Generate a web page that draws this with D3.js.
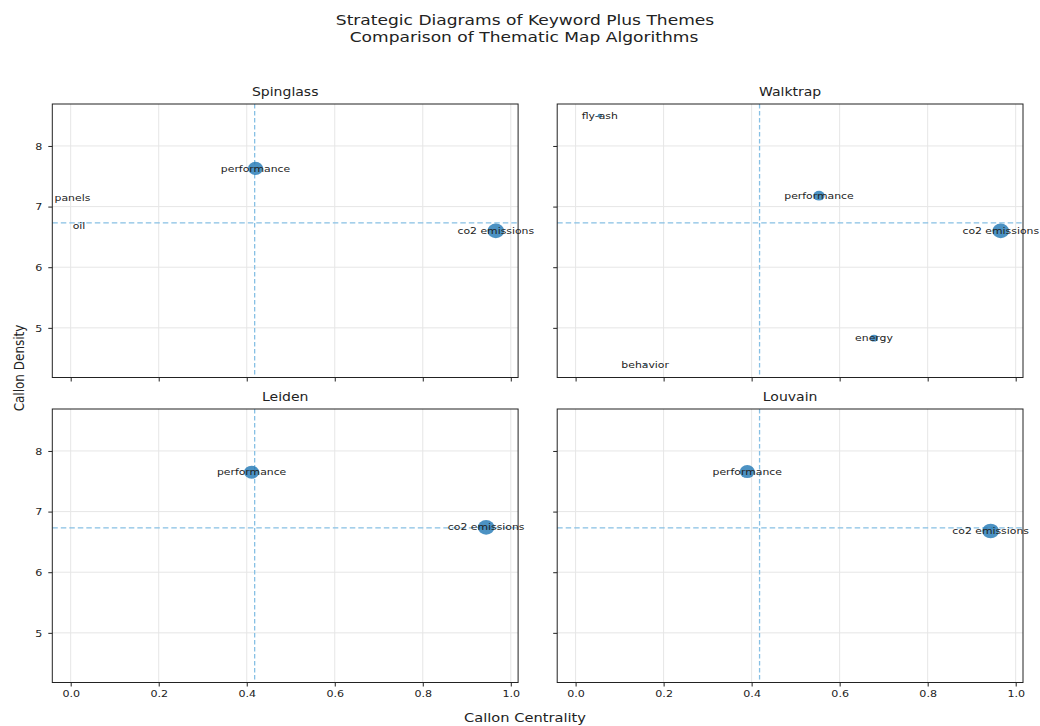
<!DOCTYPE html>
<html>
<head>
<meta charset="utf-8">
<script src="https://cdn.jsdelivr.net/npm/d3@7"></script>
<style>
  html, body { margin: 0; padding: 0; background: #fff; }
  svg { display: block; font-family: "DejaVu Sans", sans-serif; }
</style>
</head>
<body>
<svg id="chart" width="1040" height="726"></svg>
<script>
// ---------------- DATA ----------------
const algorithms = ["Spinglass", "Walktrap", "Leiden", "Louvain"];

const spinglassThemes      = ["performance", "co2 emissions", "panels", "oil"];
const spinglassCentrality  = [0.420, 0.966, 0.004, 0.019];
const spinglassDensity     = [7.63, 6.60, 7.15, 6.68];
const spinglassFrequency   = [80, 100, 0, 0];

const walktrapThemes       = ["fly-ash", "performance", "co2 emissions", "energy", "behavior"];
const walktrapCentrality   = [0.055, 0.553, 0.966, 0.678, 0.158];
const walktrapDensity      = [8.50, 7.18, 6.60, 4.83, 4.39];
const walktrapFrequency    = [7, 45, 100, 22, 2];

const leidenThemes         = ["performance", "co2 emissions"];
const leidenCentrality     = [0.411, 0.944];
const leidenDensity        = [7.65, 6.74];
const leidenFrequency      = [80, 100];

const louvainThemes        = ["performance", "co2 emissions"];
const louvainCentrality    = [0.390, 0.943];
const louvainDensity       = [7.66, 6.68];
const louvainFrequency     = [80, 100];

const centralityThreshold  = [0.418, 0.418, 0.418, 0.418];
const densityThreshold     = [6.73, 6.73, 6.73, 6.73];

const xTicks = [0.0, 0.2, 0.4, 0.6, 0.8, 1.0];
const yTicks = [5, 6, 7, 8];
const xDomain = [-0.0418, 1.0166];
const yDomain = [4.181, 8.692];

const figTitle = ["Strategic Diagrams of Keyword Plus Themes", "Comparison of Thematic Map Algorithms"];
const xLabel = "Callon Centrality";
const yLabel = "Callon Density";

const panelData = [
  {themes: spinglassThemes, cx: spinglassCentrality, dy: spinglassDensity, f: spinglassFrequency},
  {themes: walktrapThemes,  cx: walktrapCentrality,  dy: walktrapDensity,  f: walktrapFrequency},
  {themes: leidenThemes,    cx: leidenCentrality,    dy: leidenDensity,    f: leidenFrequency},
  {themes: louvainThemes,   cx: louvainCentrality,   dy: louvainDensity,   f: louvainFrequency}
];

// ---------------- LAYOUT ----------------
const SX = 1.22;              // horizontal stretch of the original figure
const W = 465.8, H = 273.5;
const lefts = [52.3, 557.2];
const tops = [104, 409];
const ink = "#222";

const svg = d3.select("#chart");
const sizeScale = d3.scaleSqrt().domain([0, 100]).range([0, 7.3]);

function stretchedText(g, x, y, txt, size, anchor) {
  return g.append("text")
    .attr("transform", `translate(${x},${y}) scale(${SX},1)`)
    .attr("text-anchor", anchor || "middle")
    .attr("font-size", size)
    .attr("fill", ink)
    .text(txt);
}

// figure title
stretchedText(svg, 525, 25, figTitle[0], 14, "middle");
stretchedText(svg, 524, 42, figTitle[1], 14, "middle");

algorithms.forEach((name, i) => {
  const col = i % 2, row = Math.floor(i / 2);
  const x0 = lefts[col], y0 = tops[row];
  const x = d3.scaleLinear().domain(xDomain).range([x0, x0 + W]);
  const y = d3.scaleLinear().domain(yDomain).range([y0 + H, y0]);
  const g = svg.append("g");

  // grid
  g.append("g").selectAll("line").data(xTicks).join("line")
    .attr("x1", d => x(d)).attr("x2", d => x(d))
    .attr("y1", y0).attr("y2", y0 + H)
    .attr("stroke", "#e6e6e6").attr("stroke-width", 1);
  g.append("g").selectAll("line").data(yTicks).join("line")
    .attr("x1", x0).attr("x2", x0 + W)
    .attr("y1", d => y(d)).attr("y2", d => y(d))
    .attr("stroke", "#e6e6e6").attr("stroke-width", 1);

  // threshold lines
  g.append("line")
    .attr("x1", x0).attr("x2", x0 + W)
    .attr("y1", y(densityThreshold[i])).attr("y2", y(densityThreshold[i]))
    .attr("stroke", "#87c0e4").attr("stroke-width", 1.3)
    .attr("stroke-dasharray", "5.5,3");
  g.append("line")
    .attr("x1", x(centralityThreshold[i])).attr("x2", x(centralityThreshold[i]))
    .attr("y1", y0).attr("y2", y0 + H)
    .attr("stroke", "#87c0e4").attr("stroke-width", 1.3)
    .attr("stroke-dasharray", "4.5,2.5");

  // axes via d3
  const xAxis = d3.axisBottom(x).tickValues(xTicks).tickSize(4).tickPadding(3)
    .tickFormat(row === 1 ? d3.format(".1f") : () => "");
  const yAxis = d3.axisLeft(y).tickValues(yTicks).tickSize(4).tickPadding(6)
    .tickFormat(col === 0 ? d3.format("d") : () => "");

  const gx = g.append("g").attr("transform", `translate(0,${y0 + H})`).call(xAxis);
  const gy = g.append("g").attr("transform", `translate(${x0},0)`).call(yAxis);
  [gx, gy].forEach(a => {
    a.select(".domain").remove();
    a.selectAll(".tick line").attr("stroke", ink).attr("stroke-width", 1);
  });
  gx.selectAll(".tick text")
    .attr("font-family", "DejaVu Sans").attr("font-size", 9.1).attr("fill", ink)
    .attr("dy", null).attr("y", 15)
    .attr("transform", `scale(${SX},1)`);
  gy.selectAll(".tick text")
    .attr("font-family", "DejaVu Sans").attr("font-size", 9.1).attr("fill", ink)
    .attr("x", -10 / SX).attr("dy", "0.35em")
    .attr("transform", `scale(${SX},1)`);

  // frame
  g.append("rect")
    .attr("x", x0).attr("y", y0).attr("width", W).attr("height", H)
    .attr("fill", "none").attr("stroke", ink).attr("stroke-width", 1);

  // subplot title
  stretchedText(g, x0 + W / 2, y0 - 8, name, 11.5, "middle");

  // bubbles
  const pd = panelData[i];
  const idx = d3.range(pd.themes.length);
  g.append("g").selectAll("ellipse").data(idx).join("ellipse")
    .attr("cx", k => x(pd.cx[k])).attr("cy", k => y(pd.dy[k]))
    .attr("rx", k => sizeScale(pd.f[k]) * 1.15)
    .attr("ry", k => sizeScale(pd.f[k]))
    .attr("fill", "#1f77b4").attr("fill-opacity", 0.8);

  // labels
  const lg = g.append("g");
  idx.forEach(k => {
    stretchedText(lg, x(pd.cx[k]), y(pd.dy[k]), pd.themes[k], 8.9, "middle")
      .attr("dy", "0.35em");
  });
});

// axis labels
stretchedText(svg, 525, 722, xLabel, 12, "middle");
svg.append("text")
  .attr("transform", `translate(24,368) scale(${SX},1) rotate(-90)`)
  .attr("text-anchor", "middle")
  .attr("font-size", 12)
  .attr("fill", ink)
  .text(yLabel);
</script>
</body>
</html>
